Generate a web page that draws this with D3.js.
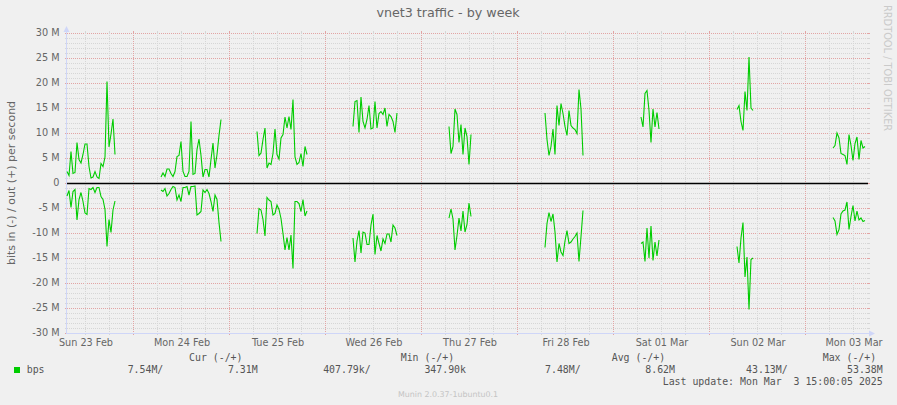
<!DOCTYPE html>
<html><head><meta charset="utf-8">
<script src="https://cdn.jsdelivr.net/npm/d3@7"></script>
<style>
body{margin:0;background:#f0f0f0}
svg{display:block}
text{white-space:pre}
</style>
</head><body>
<svg id="c" width="897" height="405"></svg>
<script>
// ---------------- data ----------------
const title = "vnet3 traffic - by week";
const yLabel = "bits in (-) / out (+) per second";
const sampleStepMinutes = 30;
const segmentStarts = ["2025-02-23T07:30","2025-02-24T07:00","2025-02-25T07:00","2025-02-26T07:00",
  "2025-02-27T07:00","2025-02-28T07:00","2025-03-01T07:00","2025-03-02T07:00","2025-03-03T07:00"];
// out (+) in Mbit/s
const outSun23 = [2.3,1.5,6.3,1.9,2.1,8.1,4.7,4.0,5.7,7.8,7.8,3.3,1.0,1.2,2.3,1.2,0.9,3.9,3.3,5.2,20.3,7.2,9.8,12.8,5.7];
const outMon24 = [1.2,2.0,1.3,2.8,2.8,1.9,1.3,2.3,5.3,5.5,8.3,2.3,1.3,1.3,2.3,12.3,1.7,1.9,6.7,8.8,5.5,1.2,2.7,2.7,1.2,4.7,8.0,3.0,5.7,9.5,12.7];
const outTue25 = [10.3,5.5,6.0,8.7,11.0,3.0,4.0,3.7,5.9,10.8,5.7,4.8,9.0,9.7,13.2,11.0,13.3,10.7,16.7,5.2,3.7,4.1,5.9,3.3,7.3,5.7];
const outWed26 = [11.3,16.3,16.5,10.1,17.2,12.3,11.0,12.7,15.5,10.8,11.0,16.3,11.0,13.9,14.3,13.7,15.0,11.3,13.7,13.3,12.3,10.1,14.0];
const outThu27 = [11.3,5.9,7.3,14.8,13.7,8.1,11.7,5.7,11.0,9.3,3.7,9.7];
const outFri28 = [14.0,8.7,5.5,7.3,10.8,5.7,15.5,11.5,15.9,13.9,11.3,9.5,14.5,11.5,11.0,10.7,9.9,18.7,14.8,5.5];
const outSat01 = [13.2,11.2,17.9,18.5,14.5,8.1,14.8,11.2,14.1,10.8];
const outSun02 = [14.7,15.5,12.3,10.5,18.3,14.5,25.2,15.0,14.5];
const outMon03 = [7.0,7.5,10.0,9.0,5.9,5.7,5.5,3.7,9.7,7.5,4.5,7.9,9.2,4.7,8.5,7.0,7.3];
// in (-) in Mbit/s (drawn negated)
const inSun23 = [2.6,1.5,4.9,1.7,1.3,7.4,3.3,1.9,3.7,6.0,6.3,1.1,1.3,0.9,1.9,0.9,0.9,2.7,3.3,5.3,12.7,7.3,9.9,5.4,3.6];
const inMon24 = [1.4,1.7,1.1,2.6,2.1,1.3,0.7,0.9,3.4,2.4,3.7,0.9,0.9,0.7,2.4,0.7,0.7,0.6,6.4,6.1,5.7,1.4,1.9,1.3,2.1,3.7,5.7,2.4,3.3,7.9,11.7];
const inTue25 = [10.1,5.1,5.4,7.3,10.6,2.9,3.4,3.7,6.4,6.1,4.4,5.3,7.1,10.1,13.4,10.9,13.4,10.4,17.1,3.7,3.7,4.1,5.7,3.3,6.6,5.6];
const inWed26 = [11.0,15.8,11.6,9.5,14.0,9.8,10.0,12.3,12.3,8.4,6.2,14.3,10.5,12.1,13.6,11.2,12.1,10.2,10.2,11.8,8.4,9.0,10.5];
const inThu27 = [7.0,5.2,7.2,13.4,10.5,7.0,9.6,5.6,9.8,8.3,4.0,6.7];
const inFri28 = [12.9,8.1,5.9,7.7,6.2,9.8,15.8,12.1,13.8,14.5,11.6,9.5,12.1,11.8,11.2,10.7,10.0,15.7,10.7,5.5];
const inSat01 = [12.1,11.8,15.7,9.0,15.0,8.6,15.5,11.8,14.6,11.4];
const inSun02 = [12.7,16.0,11.0,7.9,18.8,14.8,25.3,15.3,15.0];
const inMon03 = [6.9,7.6,10.3,9.3,6.2,5.6,5.4,3.8,9.3,6.7,4.5,7.6,5.6,7.4,7.0,7.7,7.5];
const outSegments = [outSun23,outMon24,outTue25,outWed26,outThu27,outFri28,outSat01,outSun02,outMon03];
const inSegments = [inSun23,inMon24,inTue25,inWed26,inThu27,inFri28,inSat01,inSun02,inMon03];

const timeDomain = ["2025-02-23T07:30","2025-03-03T15:45"];
const yTickValues = [-30,-25,-20,-15,-10,-5,0,5,10,15,20,25,30];
const yTickLabels = ["-30 M","-25 M","-20 M","-15 M","-10 M","-5 M","0","5 M","10 M","15 M","20 M","25 M","30 M"];
const dayTicks = ["2025-02-23","2025-02-24","2025-02-25","2025-02-26","2025-02-27","2025-02-28","2025-03-01","2025-03-02","2025-03-03"];
const dayLabels = ["Sun 23 Feb","Mon 24 Feb","Tue 25 Feb","Wed 26 Feb","Thu 27 Feb","Fri 28 Feb","Sat 01 Mar","Sun 02 Mar","Mon 03 Mar"];

const seriesName = "bps";
const legendHeaders = ["Cur (-/+)","Min (-/+)","Avg (-/+)","Max (-/+)"];
const legendValues = ["7.54M/","7.31M","407.79k/","347.90k","7.48M/","8.62M","43.13M/","53.38M"];
const lastUpdate = "Last update: Mon Mar  3 15:00:05 2025";
const watermark = "Munin 2.0.37-1ubuntu0.1";
const signature = "RRDTOOL / TOBI OETIKER";

// ---------------- drawing ----------------
const parseT = d3.timeParse("%Y-%m-%dT%H:%M");
const parseD = d3.timeParse("%Y-%m-%d");
const L = 67, R = 868, T = 33, B = 333;
const x = d3.scaleTime().domain(timeDomain.map(parseT)).range([L, R]);
const y = d3.scaleLinear().domain([-30, 30]).range([B, T]);
const svg = d3.select("#c");
const lineColor = "#00cc00";
const minorCol = "#d6d6d6", majorCol = "#e2a4a4", axisCol = "#cfd6f8";
const fontSans = "'DejaVu Sans', sans-serif", fontMono = "'DejaVu Sans Mono', monospace";

svg.append("rect").attr("width", 897).attr("height", 405).attr("fill", "#f0f0f0");

const g = svg.append("g");
// horizontal grid
const yMinor = d3.range(-30, 31).filter(v => v % 5 !== 0);
function hLine(v, col) {
  const yy = Math.round(y(v)) + 0.5;
  g.append("line").attr("x1", L).attr("x2", R).attr("y1", yy).attr("y2", yy)
    .attr("stroke", col).attr("stroke-dasharray", "1,1");
  g.append("line").attr("x1", L - 2).attr("x2", L).attr("y1", yy).attr("y2", yy).attr("stroke", col);
  g.append("line").attr("x1", R).attr("x2", R + 2).attr("y1", yy).attr("y2", yy).attr("stroke", col);
}
yMinor.forEach(v => hLine(v, minorCol));
yTickValues.forEach(v => hLine(v, majorCol));

// vertical grid
const [t0, t1] = x.domain();
const sixHours = d3.timeHour.every(6).range(t0, t1).filter(d => d.getHours() !== 0);
const midnights = d3.timeDay.range(t0, t1);
function vLine(d, col) {
  const xx = Math.round(x(d)) + 0.5;
  g.append("line").attr("x1", xx).attr("x2", xx).attr("y1", T).attr("y2", B)
    .attr("stroke", col).attr("stroke-dasharray", "1,1");
  g.append("line").attr("x1", xx).attr("x2", xx).attr("y1", T - 2).attr("y2", T).attr("stroke", col);
  g.append("line").attr("x1", xx).attr("x2", xx).attr("y1", B).attr("y2", B + 2).attr("stroke", col);
}
sixHours.forEach(d => vLine(d, minorCol));
midnights.forEach(d => vLine(d, majorCol));

// axes (rrdtool style with arrows)
svg.append("line").attr("x1", L - 0.5).attr("x2", L - 0.5).attr("y1", B + 1).attr("y2", T - 4)
  .attr("stroke", axisCol);
svg.append("path").attr("d", `M${L - 3.5},${T - 1}L${L + 2.5},${T - 1}L${L - 0.5},${T - 7}Z`).attr("fill", axisCol);
svg.append("line").attr("x1", L - 1).attr("x2", R + 4).attr("y1", B + 0.5).attr("y2", B + 0.5)
  .attr("stroke", axisCol);
svg.append("path").attr("d", `M${R + 1},${B - 2.5}L${R + 1},${B + 3.5}L${R + 7},${B + 0.5}Z`).attr("fill", axisCol);

// data lines
const line = d3.line().x(d => x(d.t)).y(d => y(d.v));
function segPoints(startStr, vals, sign) {
  const s = parseT(startStr);
  return vals.map((v, i) => ({ t: d3.timeMinute.offset(s, i * sampleStepMinutes), v: sign * v }));
}
const dataG = svg.append("g").attr("fill", "none").attr("stroke", lineColor)
  .attr("stroke-width", 1.1).attr("stroke-linejoin", "miter");
segmentStarts.forEach((s, i) => {
  dataG.append("path").attr("d", line(segPoints(s, outSegments[i], 1)));
  dataG.append("path").attr("d", line(segPoints(s, inSegments[i], -1)));
});

// zero line
svg.append("line").attr("x1", L).attr("x2", R).attr("y1", Math.round(y(0)) + 0.5).attr("y2", Math.round(y(0)) + 0.5)
  .attr("stroke", "#000").attr("stroke-width", 1.3);

// y tick labels
svg.append("g").selectAll("text").data(yTickValues).join("text")
  .attr("x", 59.5).attr("y", v => y(v)).attr("dy", "0.36em")
  .attr("text-anchor", "end").attr("font-family", fontSans).attr("font-size", 9.7)
  .attr("fill", "#666").text((v, i) => yTickLabels[i]);

// x tick labels (at noon of each day)
svg.append("g").selectAll("text").data(dayTicks).join("text")
  .attr("x", d => x(d3.timeHour.offset(parseD(d), 12)) + 1)
  .attr("y", 346).attr("text-anchor", "middle").attr("font-family", fontSans).attr("font-size", 9.7)
  .attr("fill", "#666").text((d, i) => dayLabels[i]);

// title
svg.append("text").attr("x", 448).attr("y", 17).attr("text-anchor", "middle")
  .attr("font-family", fontSans).attr("font-size", 12.7).attr("fill", "#666").text(title);

// y axis title
svg.append("text").attr("transform", "translate(15,183) rotate(-90)").attr("text-anchor", "middle")
  .attr("font-family", fontSans).attr("font-size", 11).attr("fill", "#666").text(yLabel);

// signature (right side, vertical)
svg.append("text").attr("transform", "translate(884,5) rotate(90)").attr("text-anchor", "start")
  .attr("font-family", fontSans).attr("font-size", 9.8).attr("fill", "#cacaca").text(signature);

// legend
const lg = svg.append("g").attr("font-family", fontMono).attr("font-size", 9.9).attr("fill", "#555");
const headerX = [189, 400.7, 611.7, 822.7];
legendHeaders.forEach((h, i) => lg.append("text").attr("x", headerX[i]).attr("y", 361).text(h));
lg.append("rect").attr("x", 14).attr("y", 367).attr("width", 6).attr("height", 6).attr("fill", lineColor);
lg.append("text").attr("x", 26.7).attr("y", 373).text(seriesName);
const valueRight = [163.3, 257.7, 370.7, 466, 580.7, 675, 787.7, 882.7];
legendValues.forEach((v, i) => lg.append("text").attr("x", valueRight[i]).attr("y", 373)
  .attr("text-anchor", "end").text(v));
lg.append("text").attr("x", 882.7).attr("y", 385).attr("text-anchor", "end").text(lastUpdate);

// watermark
svg.append("text").attr("x", 448).attr("y", 397).attr("text-anchor", "middle")
  .attr("font-family", fontSans).attr("font-size", 7.9).attr("fill", "#c4c4c4").text(watermark);
</script>
</body></html>
